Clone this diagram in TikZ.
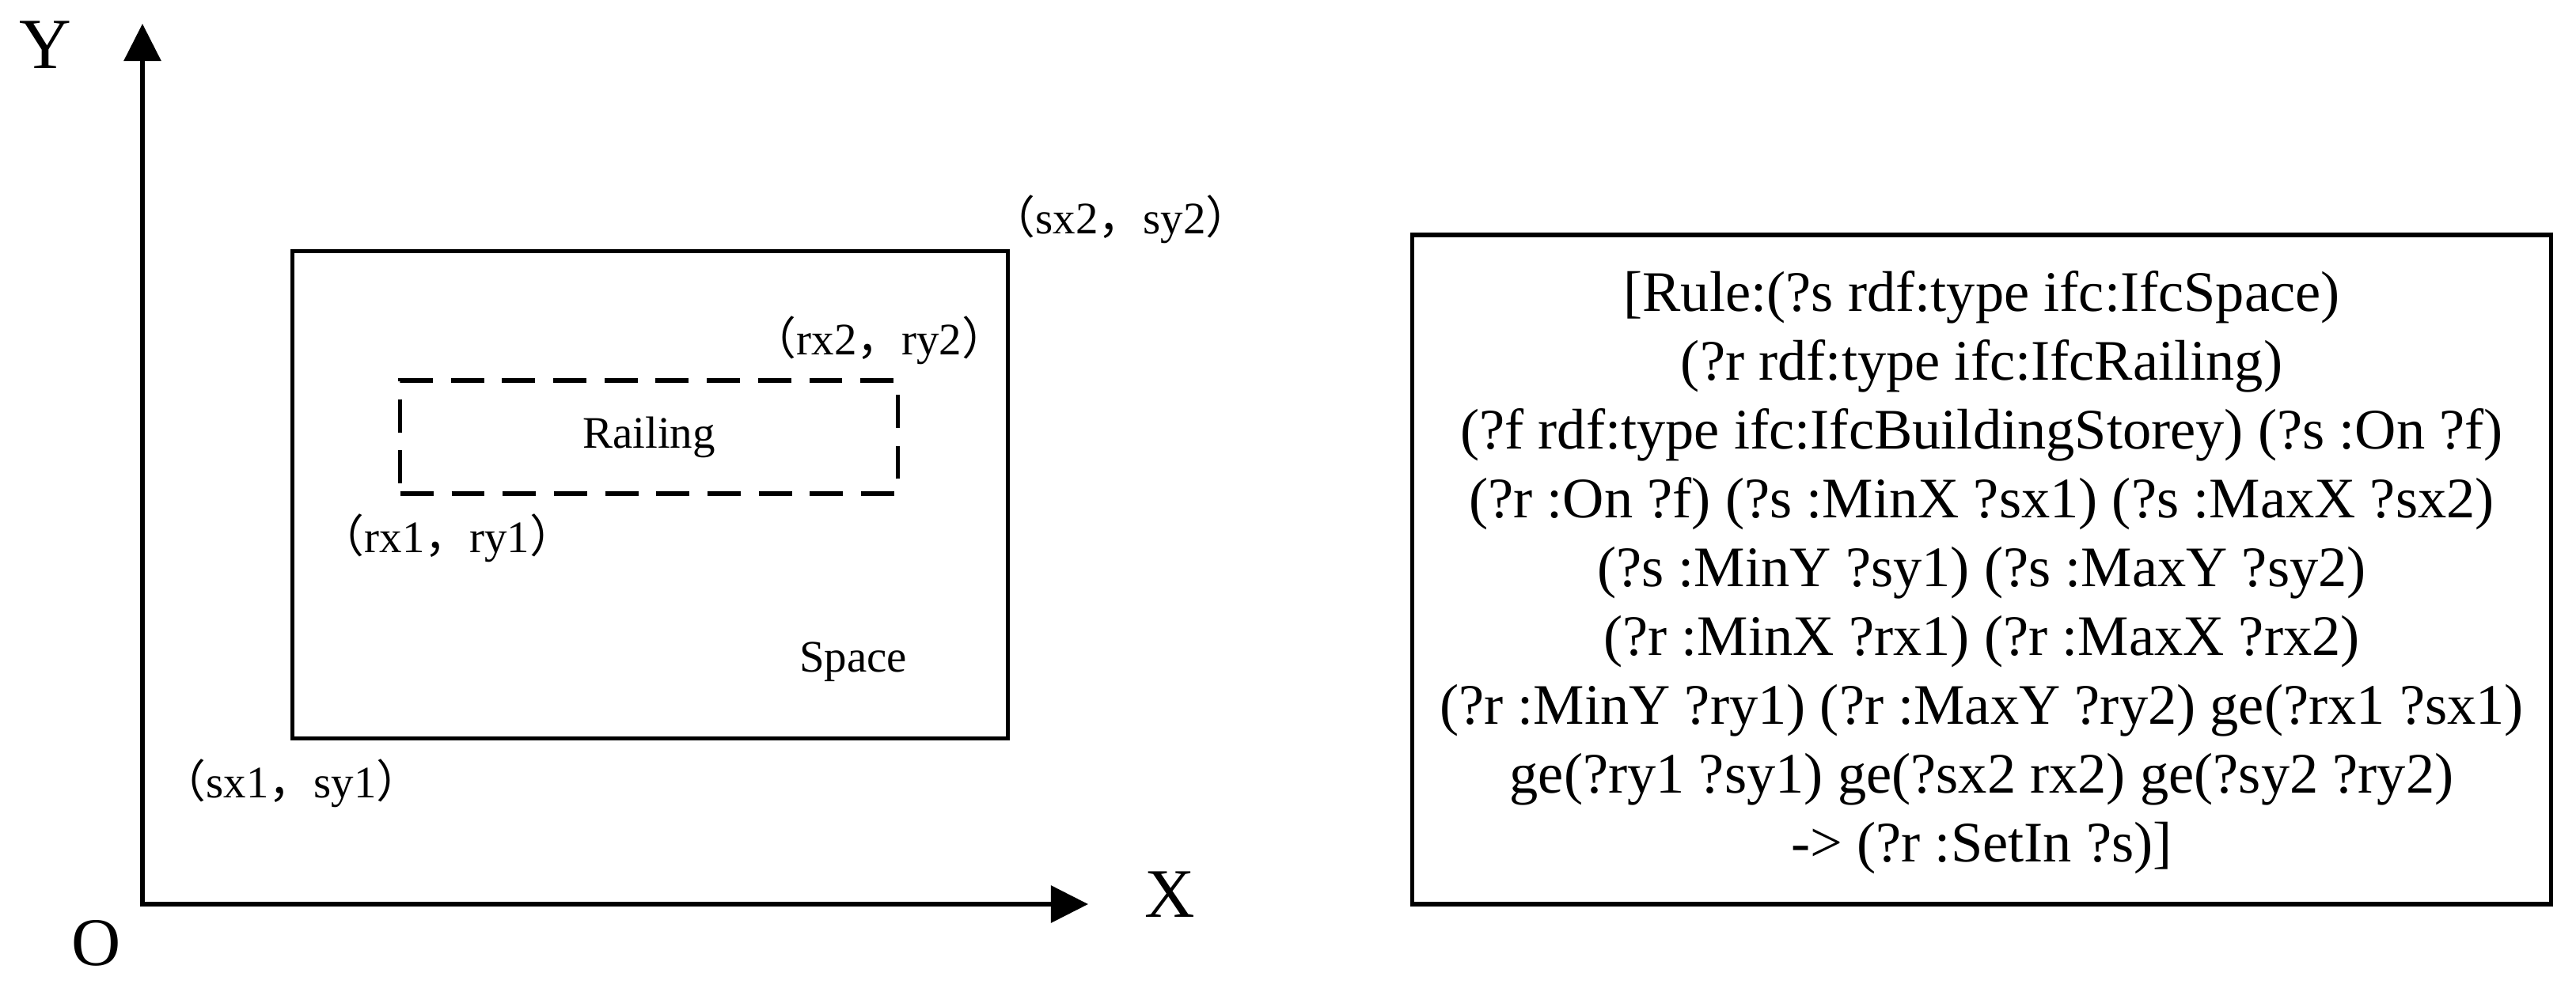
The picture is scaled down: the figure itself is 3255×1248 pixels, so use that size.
\documentclass[tikz,border=0pt]{standalone}
\usepackage{fontspec}
\setmainfont{Liberation Serif}
\newfontfamily\cjk{Noto Sans CJK SC}
\usetikzlibrary{arrows.meta}
\newcommand{\lp}{{\cjk （}}
\newcommand{\rp}{{\cjk ）}}
\newcommand{\cm}{{\cjk ，}}
\begin{document}
\begin{tikzpicture}[x=0.01cm,y=-0.01cm,
  axisline/.style={line width=1.7pt, {Triangle[length=0.47cm,width=0.46cm]}-{Triangle[length=0.47cm,width=0.46cm]}},
  box/.style={draw, line width=1.5pt, inner sep=0pt},
  dashbox/.style={draw, line width=1.5pt, inner sep=0pt, dash pattern=on 11.9pt off 6.5pt},
  axlbl/.style={font=\fontsize{25}{30}\selectfont, inner sep=0pt},
  lbl/.style={font=\fontsize{16.2}{19}\selectfont, inner sep=0pt},
  coordlbl/.style={font=\fontsize{16.2}{19}\selectfont, inner sep=0pt, anchor=base},
  ruleline/.style={font=\fontsize{20.6}{24.75}\selectfont, inner sep=0pt, anchor=base}]
\useasboundingbox (0,0) rectangle (3255,1248);
% axes
\coordinate (O) at (180,1143);
\coordinate (ytip) at (180,30);
\coordinate (xtip) at (1375,1143);
\draw[axisline] (ytip) -- (O) -- (xtip);
\node[axlbl, font=\fontsize{25.9}{30}\selectfont] (Ylab) at (57,57) {Y};
\node[axlbl] (Xlab) at (1478,1131) {X};
\node[axlbl, font=\fontsize{24.5}{30}\selectfont] (Olab) at (122,1192) {O};
% space and railing
\node[box, minimum width=9.03cm, minimum height=6.15cm] (space) at (821.5,625.5) {};
\node[dashbox, minimum width=6.28cm, minimum height=1.43cm, font=\fontsize{16.2}{19}\selectfont] (railing) at (820,552.5) {Railing};
\node[lbl] (spacelbl) at (1078,837) {Space};
\node[coordlbl] (s2) at (1416,295) {\lp sx2\cm sy2\rp};
\node[coordlbl] (r2) at (1111,448) {\lp rx2\cm ry2\rp};
\node[coordlbl] (r1) at (565,698) {\lp rx1\cm ry1\rp};
\node[coordlbl] (s1) at (368,1008) {\lp sx1\cm sy1\rp};
% rule box
\node[box, line width=1.6pt, minimum width=14.38cm, minimum height=8.46cm] (rulebox) at (2504,720) {};
\node[ruleline] (rl1) at (2504,393) {[Rule:(?s rdf:type ifc:IfcSpace)};
\node[ruleline] (rl2) at (2504,480) {(?r rdf:type ifc:IfcRailing)};
\node[ruleline] (rl3) at (2504,567) {(?f rdf:type ifc:IfcBuildingStorey) (?s :On ?f)};
\node[ruleline] (rl4) at (2504,654) {(?r :On ?f) (?s :MinX ?sx1) (?s :MaxX ?sx2)};
\node[ruleline] (rl5) at (2504,741) {(?s :MinY ?sy1) (?s :MaxY ?sy2)};
\node[ruleline] (rl6) at (2504,828) {(?r :MinX ?rx1) (?r :MaxX ?rx2)};
\node[ruleline] (rl7) at (2504,915) {(?r :MinY ?ry1) (?r :MaxY ?ry2) ge(?rx1 ?sx1)};
\node[ruleline] (rl8) at (2504,1002) {ge(?ry1 ?sy1) ge(?sx2 rx2) ge(?sy2 ?ry2)};
\node[ruleline] (rl9) at (2504,1089) {-> (?r :SetIn ?s)]};
\end{tikzpicture}
\end{document}
